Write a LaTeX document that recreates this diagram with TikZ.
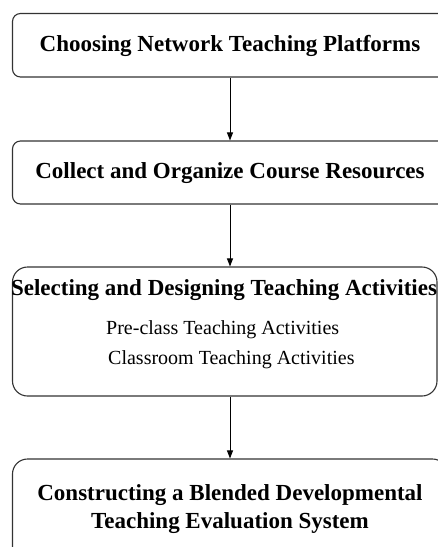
\documentclass[tikz,border=0pt]{standalone}
\usepackage{fontspec}
\setmainfont{Liberation Serif}
\usetikzlibrary{arrows.meta}
\begin{document}
\begin{tikzpicture}[x=1pt,y=-1pt,
  stagebox/.style={draw=black!80, line width=1.1pt, rounded corners=#1, inner sep=0pt},
  stagebox/.default=8pt,
  headtext/.style={font=\fontsize{23}{27}\selectfont\bfseries, align=center, inner sep=0pt},
  subtext/.style={font=\fontsize{20}{24}\selectfont, anchor=west, inner sep=0pt},
  flow/.style={draw=black, line width=0.9pt, -{Triangle[length=8pt,width=6pt]}}]
  \useasboundingbox (0,0) rectangle (438,547);
  \clip (0,0) rectangle (438,547);
  \fill[white] (0,0) rectangle (438,547);

  % stage boxes
  \node[stagebox, minimum width=435pt, minimum height=63.5pt] (b1) at (230,45.25) {};
  \node[stagebox, minimum width=435pt, minimum height=63pt] (b2) at (230,172.5) {};
  \node[stagebox=15pt, minimum width=424.5pt, minimum height=129pt] (b3) at (224.75,331.5) {};
  \node[stagebox=15pt, minimum width=435pt, minimum height=110pt] (b4) at (230,514) {};

  % box texts
  \node[headtext] (t1) at (230,46) {Choosing Network Teaching Platforms};
  \node[headtext] (t2) at (230,173) {Collect and Organize Course Resources};
  \node[headtext] (t3) at (224,290) {Selecting and Designing Teaching Activities};
  \node[subtext] (t3a) at (106,330) {Pre-class Teaching Activities};
  \node[subtext] (t3b) at (108,360) {Classroom Teaching Activities};
  \node[headtext, font=\fontsize{23}{28}\selectfont\bfseries] (t4) at (230,509)
    {Constructing a Blended Developmental\\Teaching Evaluation System};

  % connectors
  \draw[flow] (b1.south) -- (b2.north);
  \draw[flow] (b2.south) -- (b2.south |- b3.north);
  \draw[flow] (b4.north |- b3.south) -- (b4.north);
\end{tikzpicture}
\end{document}
